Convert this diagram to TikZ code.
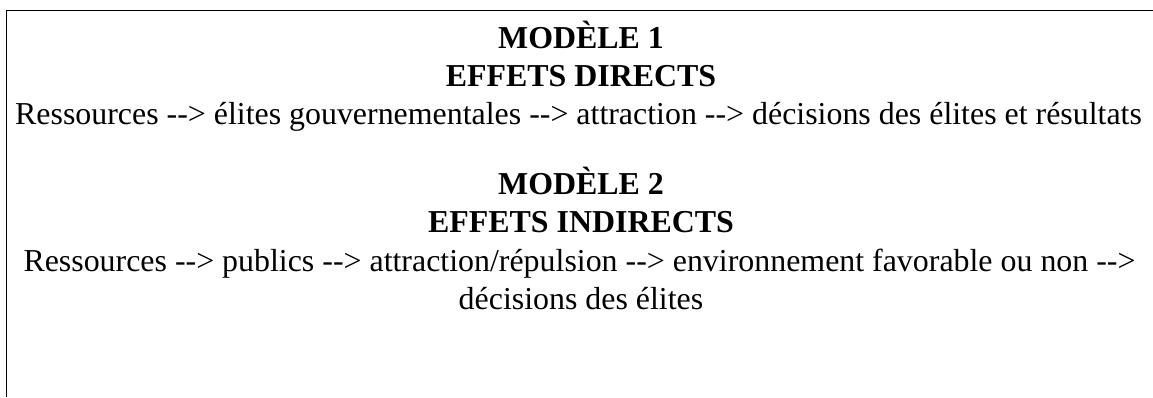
\documentclass[tikz,border=0pt]{standalone}
\usepackage{fontspec}
\setmainfont{Liberation Serif}[Ligatures=ResetAll]
\begin{document}
\begin{tikzpicture}[x=1pt,y=-1pt,
  txt/.style={anchor=base,inner sep=0pt,font=\fontsize{31.9}{38}\selectfont},
  ttl/.style={txt,font=\fontsize{31.9}{38}\selectfont\bfseries}]
\useasboundingbox (0,0) rectangle (1153,397);
\draw[line width=1.3pt] (6.5,397) -- (6.5,10.5) -- (1153,10.5);
\node[ttl] (m1) at (581,48) {MODÈLE 1};
\node[ttl] (e1) at (581,86) {EFFETS DIRECTS};
\node[txt] (l1) at (578.5,124) {Ressources -{}-> élites gouvernementales -{}-> attraction -{}-> décisions des élites et résultats};
\node[ttl] (m2) at (581,194) {MODÈLE 2};
\node[ttl] (e2) at (581,232) {EFFETS INDIRECTS};
\node[txt] (l2) at (579.5,271) {Ressources -{}-> publics -{}-> attraction/répulsion -{}-> environnement favorable ou non -{}->};
\node[txt] (l3) at (581,309) {décisions des élites};
\end{tikzpicture}
\end{document}
